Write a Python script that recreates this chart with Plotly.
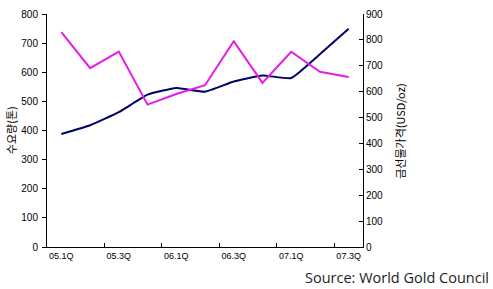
import plotly.graph_objects as go

quarters = ["05.1Q", "05.2Q", "05.3Q", "05.4Q", "06.1Q", "06.2Q",
            "06.3Q", "06.4Q", "07.1Q", "07.2Q", "07.3Q"]
demand = [388, 418, 463, 523, 546, 533, 568, 589, 580, 662, 749]
gold_price = [830, 691, 755, 550, 591, 625, 795, 634, 754, 677, 657]
label_quarters = ["05.1Q", "05.3Q", "06.1Q", "06.3Q", "07.1Q", "07.3Q"]

xi = list(range(len(quarters)))
label_pos = [quarters.index(q) for q in label_quarters]

fig = go.Figure()
fig.add_trace(go.Scatter(x=xi, y=demand, mode="lines", yaxis="y",
                         line=dict(color="#000066", width=2, shape="spline", smoothing=0.4),
                         showlegend=False))
fig.add_trace(go.Scatter(x=xi, y=gold_price, mode="lines", yaxis="y2",
                         line=dict(color="#E818E8", width=2),
                         showlegend=False))

tick_font = dict(family="Liberation Sans, Arial, sans-serif", size=10, color="#000000")

fig.update_layout(
    width=493, height=289,
    margin=dict(l=47, r=130, t=8, b=42),
    paper_bgcolor="white", plot_bgcolor="white",
    xaxis=dict(range=[-0.5, len(quarters) - 0.5], tickmode="array",
               tickvals=label_pos, ticktext=label_quarters, ticks="",
               showline=True, linecolor="black", linewidth=1, showgrid=False,
               zeroline=False, tickfont=dict(family="Liberation Sans, Arial, sans-serif", size=9, color="#000000"),
               minor=dict(tickmode="array", tickvals=[1.5, 3.5, 5.5, 7.5, 9.5],
                          ticks="inside", ticklen=4, tickcolor="black", showgrid=False)),
    yaxis=dict(range=[0, 800], dtick=100, ticks="outside", ticklen=4, tickcolor="black",
               showline=True, linecolor="black", linewidth=1, showgrid=False,
               zeroline=False, tickfont=tick_font, ticklabelstandoff=2),
    yaxis2=dict(range=[0, 900], dtick=100, overlaying="y", side="right",
                ticks="inside", ticklen=4, tickcolor="black",
                showline=True, linecolor="black", linewidth=1, showgrid=False,
                zeroline=False, tickfont=tick_font),
    annotations=[
        dict(text="수요량(톤)", xref="paper", yref="paper", x=-0.115, y=0.5,
             textangle=-90, showarrow=False, xanchor="center", yanchor="middle",
             font=dict(family="Noto Sans CJK KR", size=11, color="black")),
        dict(text="금선물가격(USD/oz)", xref="paper", yref="paper", x=1.115, y=0.5,
             textangle=-90, showarrow=False, xanchor="center", yanchor="middle",
             font=dict(family="Noto Sans CJK KR", size=11, color="black")),
        dict(text="Source: World Gold Council", xref="paper", yref="paper",
             x=1.405, y=-0.13, xanchor="right", yanchor="middle", showarrow=False,
             font=dict(family="Open Sans", size=14.5, color="#222222")),
    ],
)

fig.write_html("out.html")
